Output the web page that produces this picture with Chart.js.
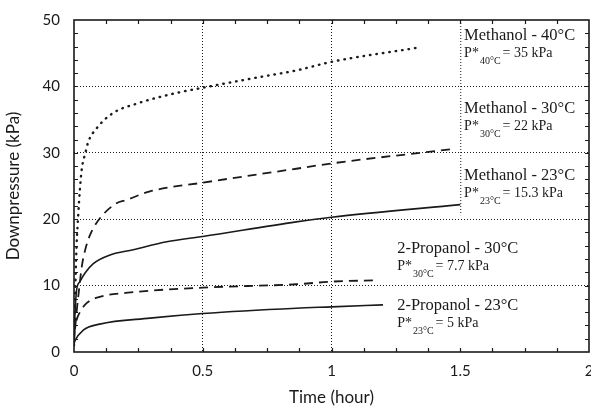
<!DOCTYPE html>
<html>
<head>
<meta charset="utf-8">
<script src="https://cdn.jsdelivr.net/npm/chart.js@4"></script>
<style>
  html, body { margin: 0; padding: 0; background: #fff; }
  #wrap { width: 591px; height: 408px; }
</style>
</head>
<body>
<div id="wrap"><canvas id="pressChart" width="591" height="408"></canvas></div>
<script>
// time (hour) / downpressure (kPa)
const meth40Time = [0, 0.004, 0.01, 0.017, 0.023, 0.03, 0.045, 0.055, 0.088, 0.152, 0.243, 0.385, 0.5, 0.72, 0.863, 1.0, 1.33];
const meth40P    = [1, 8, 16, 21, 24.5, 27.5, 30.1, 31.6, 33.7, 36.0, 37.4, 38.9, 39.8, 41.4, 42.4, 43.7, 45.8];

const meth30Time = [0, 0.01, 0.02, 0.03, 0.043, 0.062, 0.1, 0.165, 0.204, 0.295, 0.5, 0.863, 1.0, 1.48];
const meth30P    = [1.5, 6, 9.5, 12.8, 15.3, 17.6, 20.1, 22.4, 22.9, 24.2, 25.5, 27.6, 28.4, 30.6];

const meth23Time = [0, 0.004, 0.01, 0.023, 0.043, 0.075, 0.14, 0.23, 0.36, 0.5, 0.863, 1.0, 1.5];
const meth23P    = [2.5, 6, 9.3, 10.6, 11.9, 13.3, 14.6, 15.4, 16.6, 17.4, 19.6, 20.3, 22.2];

const prop30Time = [0, 0.008, 0.023, 0.05, 0.1, 0.2, 0.5, 0.863, 1.0, 1.18];
const prop30P    = [2.5, 4.5, 6.0, 7.4, 8.3, 8.9, 9.7, 10.2, 10.6, 10.8];

const prop23Time = [0, 0.004, 0.036, 0.1, 0.295, 0.5, 0.863, 1.0, 1.2];
const prop23P    = [1.2, 1.7, 3.3, 4.2, 5.1, 5.8, 6.6, 6.8, 7.1];

// curve labels
const noteTitles = ['Methanol - 40°C', 'Methanol - 30°C', 'Methanol - 23°C', '2-Propanol - 30°C', '2-Propanol - 23°C'];
const noteSubs   = ['40°C', '30°C', '23°C', '30°C', '23°C'];
const noteValues = ['= 35 kPa', '= 22 kPa', '= 15.3 kPa', '= 7.7 kPa', '= 5 kPa'];
const noteX = [1.515, 1.515, 1.515, 1.255, 1.255];
const noteY = [47.0, 36.0, 25.9, 14.9, 6.3];

const xTicks = [0, 0.5, 1, 1.5, 2];
const xTickLabels = ['0', '0.5', '1', '1.5', '2'];
const yTicks = [0, 10, 20, 30, 40, 50];

function pts(xs, ys) {
  return xs.map((x, i) => ({ x: x, y: ys[i] }));
}

const ink = '#1a1a1a';
const serif = '"Liberation Serif", "DejaVu Serif", serif';

const framePlugin = {
  id: 'frame',
  afterDatasetsDraw(chart) {
    const { ctx, chartArea: a, scales: { x, y } } = chart;
    ctx.save();
    // partial dotted gridline at 1.5 (only above the label boxes)
    ctx.strokeStyle = ink;
    ctx.lineWidth = 1;
    ctx.setLineDash([1, 2]);
    ctx.beginPath();
    ctx.moveTo(x.getPixelForValue(1.5) + 0.5, y.getPixelForValue(50));
    ctx.lineTo(x.getPixelForValue(1.5) + 0.5, y.getPixelForValue(20.6));
    ctx.stroke();
    ctx.setLineDash([]);

    // inward minor ticks on all four sides
    ctx.lineWidth = 1.2;
    ctx.beginPath();
    for (let v = 0.125; v < 2; v += 0.125) {
      const px = Math.round(x.getPixelForValue(v)) + 0.5;
      ctx.moveTo(px, a.bottom); ctx.lineTo(px, a.bottom - 4);
      ctx.moveTo(px, a.top); ctx.lineTo(px, a.top + 4);
    }
    for (let v = 2; v < 50; v += 2) {
      const py = Math.round(y.getPixelForValue(v)) + 0.5;
      ctx.moveTo(a.left, py); ctx.lineTo(a.left + 4, py);
      ctx.moveTo(a.right, py); ctx.lineTo(a.right - 4, py);
    }
    ctx.stroke();

    // frame
    ctx.lineWidth = 1.6;
    ctx.strokeRect(a.left, a.top, a.right - a.left, a.bottom - a.top);

    // curve labels
    ctx.fillStyle = ink;
    ctx.textBaseline = 'alphabetic';
    ctx.textAlign = 'left';
    noteTitles.forEach((t, i) => {
      const px = x.getPixelForValue(noteX[i]);
      const py = y.getPixelForValue(noteY[i]);
      ctx.font = '16.5px ' + serif;
      ctx.fillText(t, px, py);
      const py2 = py + 17;
      ctx.font = '14px ' + serif;
      ctx.fillText('P*', px, py2);
      const pw = ctx.measureText('P*').width;
      ctx.font = '10px ' + serif;
      ctx.fillText(noteSubs[i], px + pw + 1, py2 + 7);
      const sw = ctx.measureText(noteSubs[i]).width;
      ctx.font = '14px ' + serif;
      ctx.fillText(noteValues[i], px + pw + sw + 3, py2);
    });
    ctx.restore();
  }
};

const tickFont = { family: 'Lato, "DejaVu Sans", sans-serif', size: 15 };
const titleFont = { family: 'Lato, "DejaVu Sans", sans-serif', size: 17 };

new Chart(document.getElementById('pressChart'), {
  type: 'line',
  data: {
    datasets: [
      {
        label: 'Methanol - 40°C',
        data: pts(meth40Time, meth40P),
        borderColor: ink,
        borderWidth: 2.4,
        borderDash: [0.5, 6],
        borderCapStyle: 'round',
        pointRadius: 0,
        cubicInterpolationMode: 'monotone',
        fill: false
      },
      {
        label: 'Methanol - 30°C',
        data: pts(meth30Time, meth30P),
        borderColor: ink,
        borderWidth: 1.8,
        borderDash: [9, 6],
        pointRadius: 0,
        cubicInterpolationMode: 'monotone',
        fill: false
      },
      {
        label: 'Methanol - 23°C',
        data: pts(meth23Time, meth23P),
        borderColor: ink,
        borderWidth: 1.6,
        pointRadius: 0,
        cubicInterpolationMode: 'monotone',
        fill: false
      },
      {
        label: '2-Propanol - 30°C',
        data: pts(prop30Time, prop30P),
        borderColor: ink,
        borderWidth: 1.8,
        borderDash: [9, 6],
        pointRadius: 0,
        cubicInterpolationMode: 'monotone',
        fill: false
      },
      {
        label: '2-Propanol - 23°C',
        data: pts(prop23Time, prop23P),
        borderColor: ink,
        borderWidth: 1.6,
        pointRadius: 0,
        cubicInterpolationMode: 'monotone',
        fill: false
      }
    ]
  },
  options: {
    responsive: false,
    animation: false,
    layout: { padding: { top: 20, right: 2, left: 0, bottom: 0 } },
    plugins: {
      legend: { display: false },
      tooltip: { enabled: false }
    },
    scales: {
      x: {
        type: 'linear',
        min: 0,
        max: 2,
        afterBuildTicks: s => { s.ticks = xTicks.map(v => ({ value: v })); },
        afterFit: s => { s.height = 56; s.paddingLeft = 0; s.paddingRight = 0; },
        grid: {
          drawTicks: false,
          color: c => (c.tick && (c.tick.value === 0.5 || c.tick.value === 1)) ? ink : 'rgba(0,0,0,0)',
          lineWidth: 1
        },
        border: { display: false, dash: [1, 2] },
        ticks: {
          color: ink, font: tickFont, padding: 10, maxRotation: 0,
          callback: (v, i) => xTickLabels[i]
        },
        title: { display: true, text: 'Time (hour)', color: ink, font: titleFont, padding: { top: 0, bottom: 0 } }
      },
      y: {
        min: 0,
        max: 50,
        afterBuildTicks: s => { s.ticks = yTicks.map(v => ({ value: v })); },
        afterFit: s => { s.width = 74; s.paddingTop = 0; s.paddingBottom = 0; },
        grid: {
          drawTicks: false,
          color: c => (c.tick && c.tick.value > 0 && c.tick.value < 50) ? ink : 'rgba(0,0,0,0)',
          lineWidth: 1
        },
        border: { display: false, dash: [1, 2] },
        ticks: { color: ink, font: tickFont, padding: 14 },
        title: { display: true, text: 'Downpressure (kPa)', color: ink, font: titleFont, padding: { top: 3, bottom: 0 } }
      }
    }
  },
  plugins: [framePlugin]
});
</script>
</body>
</html>
